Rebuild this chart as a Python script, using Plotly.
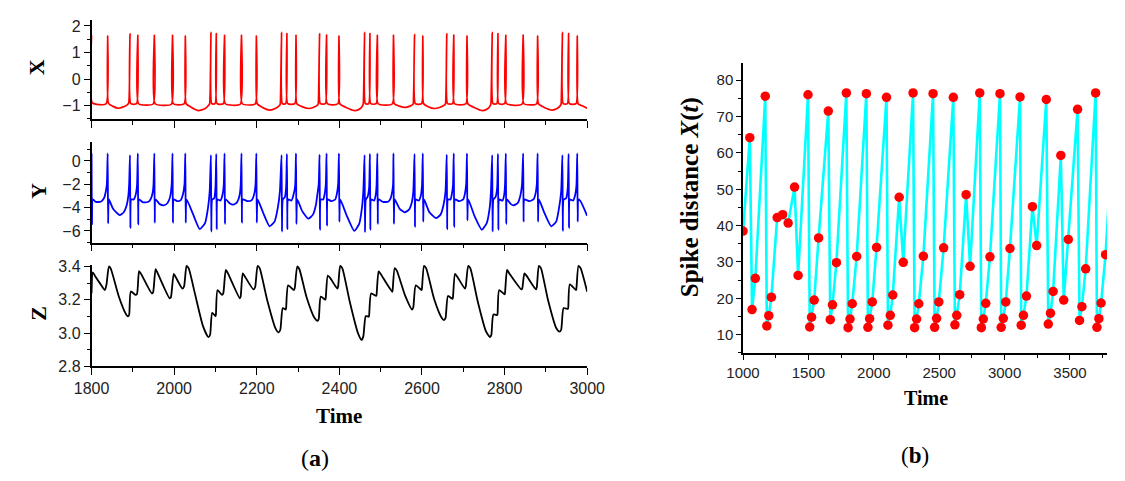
import plotly.graph_objects as go

# ---------------- panel (a): Hindmarsh-Rose type time series ----------------
# (time, value) keypoints
X_POINTS = [
    (1800, 1.64), (1802, -0.90),
    (1835, -0.94), (1839, 1.62), (1841, -0.92), (1852, -1.03), (1864, -1.10), (1877, -1.05), (1887, -0.96),
    (1890, -0.90), (1893, 1.71), (1895, -0.93),
    (1909, -0.93), (1912, 1.65), (1914, -0.93),
    (1949, -0.94), (1952, 1.65), (1954, -0.93),
    (1993, -0.95), (1996, 1.65), (1998, -0.93),
    (2024, -0.94), (2027, 1.62), (2029, -0.93), (2040, -1.05), (2059, -1.19), (2074, -1.12), (2084, -0.98),
    (2086, -0.92), (2089, 1.76), (2091, -0.93),
    (2099, -0.93), (2102, 1.71), (2104, -0.93),
    (2119, -0.93), (2122, 1.65), (2124, -0.93),
    (2160, -0.95), (2163, 1.65), (2165, -0.93),
    (2196, -0.94), (2199, 1.62), (2201, -0.93), (2212, -1.05), (2231, -1.17), (2246, -1.10), (2256, -0.98),
    (2257, -0.92), (2260, 1.76), (2262, -0.93),
    (2270, -0.93), (2273, 1.71), (2275, -0.93),
    (2292, -0.93), (2295, 1.65), (2297, -0.93), (2308, -1.03), (2325, -1.11), (2338, -1.06), (2348, -0.97),
    (2349, -0.92), (2352, 1.71), (2354, -0.93),
    (2366, -0.93), (2369, 1.66), (2371, -0.93),
    (2396, -0.94), (2399, 1.62), (2401, -0.93), (2415, -1.06), (2438, -1.19), (2450, -1.12), (2457, -0.98),
    (2458, -0.92), (2461, 1.76), (2463, -0.93),
    (2471, -0.93), (2474, 1.71), (2476, -0.93),
    (2489, -0.93), (2492, 1.65), (2494, -0.93),
    (2528, -0.94), (2531, 1.65), (2533, -0.93), (2545, -1.02), (2559, -1.07), (2571, -1.02), (2578, -0.96),
    (2579, -0.92), (2582, 1.68), (2584, -0.93),
    (2599, -0.93), (2602, 1.62), (2604, -0.93), (2615, -1.04), (2630, -1.11), (2644, -1.06), (2655, -0.97),
    (2657, -0.92), (2660, 1.71), (2662, -0.93),
    (2674, -0.93), (2677, 1.66), (2679, -0.93),
    (2706, -0.94), (2709, 1.62), (2711, -0.93), (2725, -1.06), (2747, -1.19), (2759, -1.12), (2766, -0.98),
    (2767, -0.92), (2770, 1.76), (2772, -0.93),
    (2781, -0.93), (2784, 1.71), (2786, -0.93),
    (2800, -0.93), (2803, 1.65), (2805, -0.93),
    (2842, -0.95), (2845, 1.66), (2847, -0.93),
    (2877, -0.94), (2880, 1.62), (2882, -0.93), (2895, -1.06), (2915, -1.17), (2928, -1.10), (2936, -0.98),
    (2937, -0.92), (2940, 1.76), (2942, -0.93),
    (2952, -0.93), (2955, 1.71), (2957, -0.93),
    (2973, -0.93), (2976, 1.62), (2978, -0.93), (2988, -1.01), (3000, -1.10),
]

Y_POINTS = [
    (1800, 0.65), (1801, -5.45), (1803, -3.3), (1810, -3.5), (1822, -3.5), (1830, -3.2), (1834, -2.7), (1837, -2.0),
    (1839, 0.65), (1840, -5.35), (1842, -3.3), (1852, -4.1), (1868, -4.65), (1878, -4.4), (1885, -3.8), (1889, -3.0), (1891, -2.0),
    (1893, 0.5), (1894, -5.75), (1896, -3.3), (1902, -3.3), (1906, -3.0), (1910, -2.1),
    (1912, 0.65), (1913, -5.45), (1915, -3.3), (1925, -3.55), (1938, -3.5), (1944, -3.2), (1948, -2.7), (1950, -2.0),
    (1952, 0.65), (1953, -5.3), (1955, -3.3), (1965, -3.7), (1975, -3.8), (1984, -3.6), (1990, -3.1), (1994, -2.0),
    (1996, 0.65), (1997, -5.3), (1999, -3.3), (2008, -3.45), (2016, -3.35), (2021, -2.9), (2025, -2.0),
    (2027, 0.65), (2028, -5.3), (2030, -3.3), (2045, -4.5), (2062, -5.85), (2075, -5.3), (2082, -4.0), (2086, -2.6),
    (2089, 0.5), (2090, -6.05), (2092, -3.3), (2097, -3.2), (2100, -2.3),
    (2102, 0.6), (2103, -5.85), (2105, -3.3), (2112, -3.4), (2117, -2.9), (2120, -2.1),
    (2122, 0.65), (2123, -5.4), (2125, -3.3), (2135, -3.65), (2143, -3.75), (2152, -3.55), (2158, -3.0), (2161, -2.1),
    (2163, 0.65), (2164, -5.3), (2166, -3.3), (2178, -3.45), (2188, -3.35), (2194, -2.8), (2197, -2.0),
    (2199, 0.65), (2200, -5.3), (2202, -3.3), (2215, -4.4), (2231, -5.6), (2243, -5.2), (2251, -4.0), (2256, -2.6),
    (2260, 0.5), (2261, -6.05), (2263, -3.3), (2268, -3.1), (2271, -2.3),
    (2273, 0.6), (2274, -5.85), (2276, -3.3), (2284, -3.4), (2289, -2.9), (2293, -2.1),
    (2295, 0.65), (2296, -5.4), (2298, -3.3), (2310, -4.3), (2325, -4.95), (2336, -4.6), (2343, -3.8), (2347, -2.8), (2350, -2.0),
    (2352, 0.55), (2353, -5.9), (2355, -3.3), (2361, -3.3), (2364, -2.9), (2367, -2.1),
    (2369, 0.65), (2370, -5.55), (2372, -3.3), (2381, -3.45), (2390, -3.3), (2394, -2.8), (2397, -2.0),
    (2399, 0.65), (2400, -5.2), (2402, -3.3), (2418, -4.7), (2436, -6.0), (2448, -5.4), (2454, -4.2), (2458, -2.6),
    (2461, 0.5), (2462, -6.1), (2464, -3.3), (2468, -3.1), (2472, -2.3),
    (2474, 0.6), (2475, -5.9), (2477, -3.3), (2484, -3.4), (2488, -2.9), (2490, -2.1),
    (2492, 0.65), (2493, -5.4), (2495, -3.3), (2505, -3.5), (2518, -3.5), (2524, -3.2), (2528, -2.6), (2530, -2.0),
    (2531, 0.65), (2532, -5.4), (2534, -3.3), (2546, -4.1), (2558, -4.4), (2568, -4.2), (2575, -3.6), (2579, -2.6),
    (2582, 0.6), (2583, -5.65), (2585, -3.3), (2592, -3.4), (2597, -3.0), (2600, -2.1),
    (2602, 0.65), (2603, -5.2), (2605, -3.3), (2618, -4.4), (2634, -4.9), (2645, -4.6), (2652, -3.8), (2657, -2.6),
    (2660, 0.55), (2661, -5.85), (2663, -3.3), (2669, -3.3), (2672, -2.9), (2675, -2.1),
    (2677, 0.65), (2678, -5.65), (2680, -3.3), (2690, -3.45), (2700, -3.3), (2704, -2.8), (2707, -2.0),
    (2709, 0.65), (2710, -5.1), (2712, -3.3), (2727, -4.7), (2745, -5.9), (2757, -5.3), (2764, -4.0), (2767, -2.6),
    (2770, 0.5), (2771, -6.05), (2773, -3.3), (2778, -3.1), (2782, -2.3),
    (2784, 0.6), (2785, -5.9), (2787, -3.3), (2795, -3.4), (2799, -2.9), (2801, -2.1),
    (2803, 0.65), (2804, -5.4), (2806, -3.3), (2815, -3.7), (2822, -3.8), (2832, -3.6), (2838, -3.0), (2842, -2.1),
    (2845, 0.65), (2846, -5.2), (2848, -3.3), (2860, -3.45), (2870, -3.3), (2875, -2.8), (2878, -2.0),
    (2880, 0.65), (2881, -5.2), (2883, -3.3), (2897, -4.5), (2913, -5.6), (2925, -5.2), (2932, -4.0), (2937, -2.6),
    (2940, 0.5), (2941, -6.0), (2943, -3.3), (2949, -3.2), (2953, -2.3),
    (2955, 0.6), (2956, -5.75), (2958, -3.3), (2966, -3.4), (2971, -2.9), (2974, -2.1),
    (2976, 0.65), (2977, -5.2), (2979, -3.3), (2984, -3.45), (3000, -4.7),
]

Z_POINTS = [
    (1800, 3.24), (1803, 3.365), (1808, 3.345), (1820, 3.30), (1832, 3.258), (1836, 3.29), (1842, 3.40),
    (1846, 3.39), (1866, 3.22), (1882, 3.12), (1888, 3.10), (1891, 3.11), (1895, 3.25),
    (1906, 3.23), (1910, 3.235), (1915, 3.372),
    (1920, 3.355), (1946, 3.238), (1949, 3.245), (1955, 3.384),
    (1960, 3.36), (1989, 3.209), (1992, 3.215), (1999, 3.355),
    (2004, 3.335), (2020, 3.267), (2024, 3.28), (2030, 3.404),
    (2035, 3.39), (2050, 3.24), (2070, 3.04), (2083, 2.975), (2087, 2.99), (2092, 3.121),
    (2100, 3.102), (2101, 3.11), (2105, 3.258),
    (2116, 3.229), (2119, 3.24), (2125, 3.38),
    (2130, 3.36), (2159, 3.209), (2161, 3.22), (2166, 3.359),
    (2170, 3.345), (2192, 3.262), (2196, 3.275), (2202, 3.404),
    (2207, 3.39), (2225, 3.20), (2245, 3.03), (2253, 3.004), (2257, 3.02), (2263, 3.15),
    (2270, 3.141), (2271, 3.15), (2276, 3.287),
    (2290, 3.258), (2292, 3.27), (2298, 3.40),
    (2303, 3.385), (2320, 3.22), (2340, 3.09), (2347, 3.073), (2350, 3.085), (2355, 3.219),
    (2366, 3.20), (2367, 3.21), (2372, 3.345),
    (2378, 3.33), (2395, 3.267), (2397, 3.28), (2402, 3.404),
    (2407, 3.39), (2425, 3.19), (2445, 3.00), (2454, 2.959), (2458, 2.98), (2464, 3.102),
    (2471, 3.098), (2472, 3.105), (2477, 3.238),
    (2489, 3.223), (2490, 3.23), (2495, 3.371),
    (2500, 3.355), (2528, 3.248), (2529, 3.26), (2534, 3.39),
    (2539, 3.375), (2560, 3.22), (2576, 3.141), (2579, 3.155), (2585, 3.287),
    (2599, 3.258), (2600, 3.27), (2605, 3.404),
    (2610, 3.39), (2630, 3.20), (2648, 3.09), (2653, 3.078), (2657, 3.09), (2663, 3.223),
    (2674, 3.205), (2675, 3.215), (2680, 3.355),
    (2685, 3.34), (2704, 3.267), (2706, 3.28), (2712, 3.404),
    (2717, 3.39), (2735, 3.19), (2755, 3.01), (2765, 2.975), (2768, 2.99), (2773, 3.112),
    (2782, 3.108), (2783, 3.115), (2787, 3.258),
    (2800, 3.232), (2801, 3.24), (2806, 3.379),
    (2811, 3.36), (2841, 3.262), (2843, 3.27), (2848, 3.359),
    (2853, 3.345), (2876, 3.262), (2878, 3.275), (2883, 3.404),
    (2888, 3.39), (2905, 3.20), (2925, 3.03), (2933, 3.008), (2937, 3.02), (2943, 3.15),
    (2953, 3.145), (2954, 3.15), (2958, 3.293),
    (2973, 3.258), (2974, 3.27), (2979, 3.404),
    (2984, 3.39), (3000, 3.248),
]

A_TIME_TICKS = [1800, 2000, 2200, 2400, 2600, 2800, 3000]
X_TICKS = [-1, 0, 1, 2]
Y_TICKS = [-6, -4, -2, 0]
Z_TICKS = [2.8, 3.0, 3.2, 3.4]
Z_TICK_TEXT = ["2.8", "3.0", "3.2", "3.4"]

# ---------------- panel (b): spike distance ----------------
B_TIME = [1000, 1052, 1069, 1094, 1170, 1182, 1197, 1217, 1261, 1303, 1345, 1394, 1421, 1497, 1510,
          1524, 1544, 1578, 1652, 1667, 1684, 1714, 1790, 1803, 1818, 1835, 1869, 1943, 1955, 1968,
          1988, 2021, 2097, 2108, 2126, 2145, 2194, 2225, 2300, 2312, 2327, 2344, 2379, 2453, 2465,
          2480, 2497, 2534, 2608, 2620, 2634, 2657, 2706, 2736, 2810, 2822, 2837, 2856, 2888, 2965,
          2974, 2990, 3009, 3041, 3118, 3127, 3144, 3167, 3213, 3245, 3319, 3334, 3351, 3371, 3430,
          3452, 3487, 3558, 3573, 3591, 3620, 3696, 3706, 3721, 3738, 3772, 3845]
B_DIST = [38.5, 64.2, 16.9, 25.5, 75.6, 12.4, 15.2, 20.3, 42.2, 43.0, 40.7, 50.6, 26.3, 76.0, 12.1,
          14.8, 19.5, 36.6, 71.5, 14.1, 18.2, 29.8, 76.5, 11.9, 14.3, 18.5, 31.5, 76.3, 12.0, 14.4,
          19.0, 34.0, 75.3, 12.6, 15.3, 20.9, 47.8, 29.9, 76.5, 11.9, 14.3, 18.5, 31.6, 76.3, 12.0,
          14.5, 19.0, 33.9, 75.3, 12.7, 15.3, 21.0, 48.5, 28.8, 76.5, 11.9, 14.3, 18.6, 31.4, 76.3,
          12.0, 14.5, 19.0, 33.7, 75.4, 12.6, 15.3, 20.6, 45.2, 34.5, 74.7, 12.9, 15.9, 21.9, 59.3,
          19.5, 36.2, 72.0, 13.9, 17.7, 28.1, 76.5, 12.0, 14.4, 18.7, 32.0, 76.3]
B_TIME_TICKS = [1000, 1500, 2000, 2500, 3000, 3500]
B_DIST_TICKS = [10, 20, 30, 40, 50, 60, 70, 80]

# ---------------- figure ----------------
W, H = 1125, 481
TICK_FONT = dict(family="Arial, Liberation Sans, sans-serif", size=16, color="#222")
TICK_FONT_B = dict(family="Arial, Liberation Sans, sans-serif", size=15, color="#222")
SERIF = "Times New Roman, Liberation Serif, serif"


def px_x(p):
    return p / W


def px_y(p):
    return 1 - p / H


fig = go.Figure()

xt, xv = zip(*X_POINTS)
yt, yv = zip(*Y_POINTS)
zt, zv = zip(*Z_POINTS)

fig.add_trace(go.Scatter(x=xt, y=xv, mode="lines",
                         line=dict(color="#ff0000", width=1.7, shape="spline", smoothing=0.5),
                         xaxis="x", yaxis="y", hoverinfo="skip"))
fig.add_trace(go.Scatter(x=yt, y=yv, mode="lines",
                         line=dict(color="#0000ff", width=1.8, shape="spline", smoothing=0.5),
                         xaxis="x2", yaxis="y2", hoverinfo="skip"))
fig.add_trace(go.Scatter(x=zt, y=zv, mode="lines",
                         line=dict(color="#000000", width=1.8, shape="spline", smoothing=0.6),
                         xaxis="x3", yaxis="y3", hoverinfo="skip"))
fig.add_trace(go.Scatter(x=B_TIME, y=B_DIST, mode="lines+markers",
                         line=dict(color="#00ffff", width=2.6),
                         marker=dict(color="#ff0000", size=9.5, line=dict(width=0)),
                         xaxis="x4", yaxis="y4", hoverinfo="skip"))

a_dom = [px_x(76), px_x(588)]
common = dict(showline=True, linecolor="black", linewidth=1.5, ticks="outside",
              tickcolor="black", tickwidth=1.3, showgrid=False, zeroline=False, mirror=False)


def a_xaxis(anchor, labels):
    return dict(domain=a_dom, range=[1800, 3000], anchor=anchor, tickvals=A_TIME_TICKS,
                showticklabels=labels, ticklen=7, tickfont=TICK_FONT,
                minor=dict(ticks="outside", ticklen=4, tickcolor="black", tickwidth=1.3,
                           dtick=100, tick0=1800),
                **common)


def a_yaxis(anchor, dom, rng, tv, minor_dt, ttext=None):
    d = dict(domain=dom, range=rng, anchor=anchor, tickvals=tv, ticklen=6, tickfont=TICK_FONT,
             minor=dict(ticks="outside", ticklen=3, tickcolor="black", tickwidth=1.3,
                        dtick=minor_dt, tick0=tv[0]),
             **common)
    if ttext:
        d["ticktext"] = ttext
    return d


fig.update_layout(
    width=W, height=H, margin=dict(l=0, r=0, t=0, b=0),
    paper_bgcolor="white", plot_bgcolor="white", showlegend=False,
    xaxis=a_xaxis("y", False),
    xaxis2=a_xaxis("y2", False),
    xaxis3=a_xaxis("y3", True),
    yaxis=a_yaxis("x", [px_y(115.7), px_y(13.3)], [-1.5, 2.23], X_TICKS, 0.5),
    yaxis2=a_yaxis("x2", [px_y(243.7), px_y(140)], [-7, 1.6], Y_TICKS, 1),
    yaxis3=a_yaxis("x3", [px_y(371.7), px_y(266.7)], [2.8, 3.41], Z_TICKS, 0.1, Z_TICK_TEXT),
    xaxis4=dict(domain=[px_x(749), 1.0], range=[1000, 3783], anchor="y4", tickvals=B_TIME_TICKS,
                ticklen=5, tickfont=TICK_FONT_B,
                minor=dict(ticks="outside", ticklen=3, tickcolor="black", tickwidth=1.3, dtick=250, tick0=1000),
                **common),
    yaxis4=dict(domain=[px_y(357.7), px_y(57.7)], range=[5, 84.8], anchor="x4", tickvals=B_DIST_TICKS,
                ticklen=5, tickfont=TICK_FONT_B,
                minor=dict(ticks="outside", ticklen=3, tickcolor="black", tickwidth=1.3, dtick=5, tick0=5),
                **common),
)

ann = []


def label(text, x, y, size, angle=0, family=SERIF):
    ann.append(dict(text=text, x=px_x(x), y=px_y(y), xref="paper", yref="paper",
                    xanchor="center", yanchor="middle", showarrow=False, textangle=angle,
                    font=dict(family=family, size=size, color="black")))


label("<b>X</b>", 20, 62, 22, -90)
label("<b>Y</b>", 21, 190, 22, -90)
label("<b>Z</b>", 21, 317, 22, -90)
label("<b>Time</b>", 332, 423, 21)
label("(<b>a</b>)", 307, 467, 24)
label("<b>Spike distance <i>X</i>(<i>t</i>)</b>", 695, 197, 25, -90)
label("<b>Time</b>", 938, 404, 20)
label("(<b>b</b>)", 927, 464, 23)

fig.update_layout(annotations=ann)

fig.write_html("out.html")
